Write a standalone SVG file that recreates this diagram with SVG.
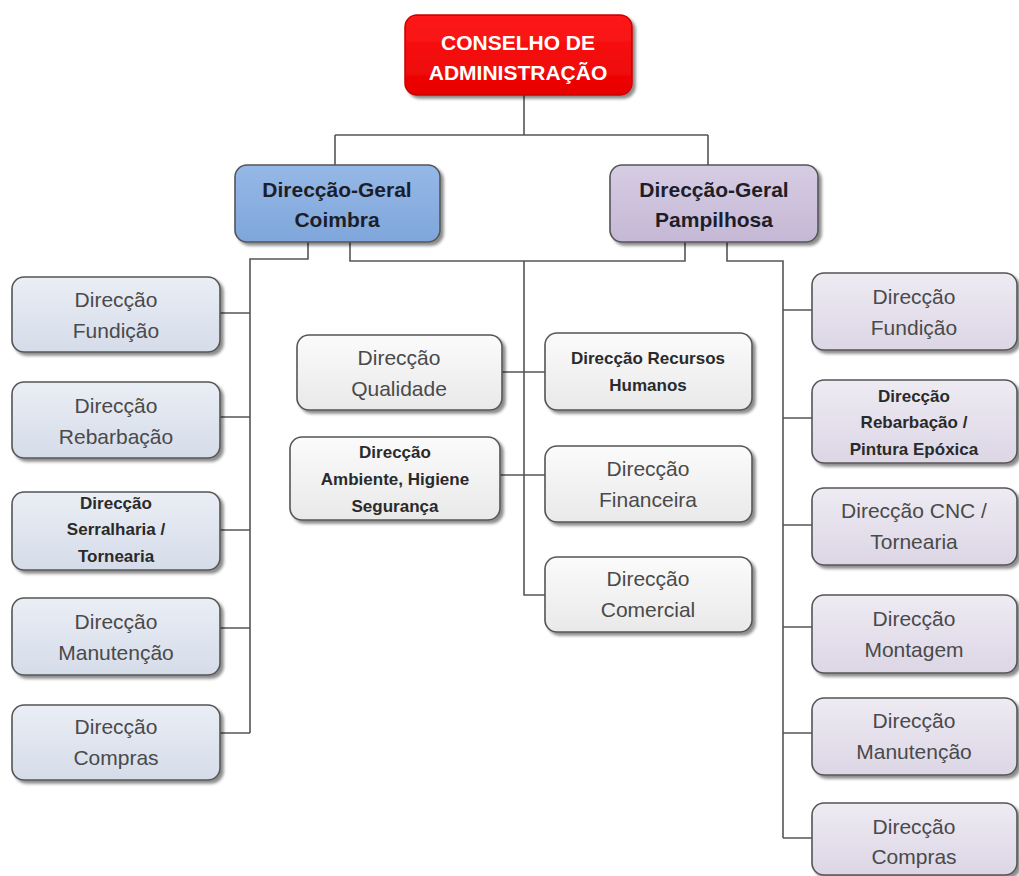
<svg xmlns="http://www.w3.org/2000/svg" width="1019" height="876" viewBox="0 0 1019 876">
<defs>
<filter id="sh" x="-10%" y="-10%" width="125%" height="130%">
<feDropShadow dx="3" dy="3" stdDeviation="1.5" flood-color="#000" flood-opacity="0.45"/>
</filter>
<linearGradient id="gRed" x1="0" y1="0" x2="0" y2="1"><stop offset="0" stop-color="#ff1a1a"/><stop offset="1" stop-color="#e80000"/></linearGradient>
<linearGradient id="gBlue" x1="0" y1="0" x2="0" y2="1"><stop offset="0" stop-color="#95b8e6"/><stop offset="1" stop-color="#7fa6db"/></linearGradient>
<linearGradient id="gLil" x1="0" y1="0" x2="0" y2="1"><stop offset="0" stop-color="#d6cce3"/><stop offset="1" stop-color="#c5b8d6"/></linearGradient>
<linearGradient id="gLB" x1="0" y1="0" x2="0" y2="1"><stop offset="0" stop-color="#eaeef5"/><stop offset="1" stop-color="#d5dce9"/></linearGradient>
<linearGradient id="gLL" x1="0" y1="0" x2="0" y2="1"><stop offset="0" stop-color="#eeebf3"/><stop offset="1" stop-color="#dcd6e5"/></linearGradient>
<linearGradient id="gW" x1="0" y1="0" x2="0" y2="1"><stop offset="0" stop-color="#fbfbfb"/><stop offset="1" stop-color="#e9e9e9"/></linearGradient>
</defs>
<style>
.box{stroke:#555;stroke-width:1.6;filter:url(#sh)}
.lb{fill:url(#gLB)} .ll{fill:url(#gLL)} .w{fill:url(#gW)}
.t{font-family:"Liberation Sans",Arial,sans-serif;font-size:21px;fill:#4a4a4a;text-anchor:middle}
.tb{font-family:"Liberation Sans",Arial,sans-serif;font-size:17px;font-weight:bold;fill:#2a2a2a;text-anchor:middle}
.th{font-family:"Liberation Sans",Arial,sans-serif;font-size:21px;font-weight:bold;fill:#1e1e2a;text-anchor:middle}
.tr{font-family:"Liberation Sans",Arial,sans-serif;font-size:21px;font-weight:bold;fill:#fff;text-anchor:middle}
.c{fill:none;stroke:#555;stroke-width:1.6}
</style>
<g id="connectors">
<path class="c" d="M524 95 V135 M335 135 H708 M335 135 V165 M708 135 V165"/>
<path class="c" d="M308 242 V259 H250 V733"/>
<path class="c" d="M220 313 H250 M220 417 H250 M220 530 H250 M220 628 H250 M220 733 H250"/>
<path class="c" d="M350 242 V261 H685 V242"/>
<path class="c" d="M524 261 V595 H545"/>
<path class="c" d="M502 372 H545 M500 475 H545"/>
<path class="c" d="M727 242 V261 H783 V838"/>
<path class="c" d="M783 310 H812 M783 418 H812 M783 525 H812 M783 627 H812 M783 733 H812 M783 838 H812"/>
</g>
<g id="conselho">
<rect x="405" y="15" width="227" height="80" rx="12" fill="url(#gRed)" stroke="#c00" stroke-width="1.5" filter="url(#sh)"/>
<text class="tr" x="518" y="50">CONSELHO DE</text>
<text class="tr" x="518" y="80">ADMINISTRAÇÃO</text>
</g>
<g id="dg-coimbra">
<rect class="box" x="235" y="165" width="205" height="77" rx="12" fill="url(#gBlue)"/>
<text class="th" x="337" y="197">Direcção-Geral</text>
<text class="th" x="337" y="227">Coimbra</text>
</g>
<g id="dg-pampilhosa">
<rect class="box" x="610" y="165" width="208" height="77" rx="12" fill="url(#gLil)"/>
<text class="th" x="714" y="197">Direcção-Geral</text>
<text class="th" x="714" y="227">Pampilhosa</text>
</g>
<g id="c-fundicao">
<rect class="box lb" x="12" y="277" width="208" height="75" rx="12"/>
<text class="t" x="116" y="307">Direcção</text><text class="t" x="116" y="338">Fundição</text>
</g>
<g id="c-rebarbacao">
<rect class="box lb" x="12" y="382" width="208" height="76" rx="12"/>
<text class="t" x="116" y="413">Direcção</text><text class="t" x="116" y="444">Rebarbação</text>
</g>
<g id="c-serralharia">
<rect class="box lb" x="12" y="492" width="208" height="78" rx="12"/>
<text class="tb" x="116" y="509">Direcção</text><text class="tb" x="116" y="535">Serralharia /</text><text class="tb" x="116" y="562">Tornearia</text>
</g>
<g id="c-manutencao">
<rect class="box lb" x="12" y="598" width="208" height="77" rx="12"/>
<text class="t" x="116" y="629">Direcção</text><text class="t" x="116" y="660">Manutenção</text>
</g>
<g id="c-compras">
<rect class="box lb" x="12" y="705" width="208" height="75" rx="12"/>
<text class="t" x="116" y="734">Direcção</text><text class="t" x="116" y="765">Compras</text>
</g>
<g id="qualidade">
<rect class="box w" x="297" y="335" width="205" height="75" rx="12"/>
<text class="t" x="399" y="365">Direcção</text><text class="t" x="399" y="396">Qualidade</text>
</g>
<g id="ambiente">
<rect class="box w" x="290" y="437" width="210" height="83" rx="12"/>
<text class="tb" x="395" y="458">Direcção</text><text class="tb" x="395" y="485">Ambiente, Higiene</text><text class="tb" x="395" y="512">Segurança</text>
</g>
<g id="recursos-humanos">
<rect class="box w" x="545" y="333" width="207" height="77" rx="12"/>
<text class="tb" x="648" y="364">Direcção Recursos</text><text class="tb" x="648" y="391">Humanos</text>
</g>
<g id="financeira">
<rect class="box w" x="545" y="446" width="207" height="76" rx="12"/>
<text class="t" x="648" y="476">Direcção</text><text class="t" x="648" y="507">Financeira</text>
</g>
<g id="comercial">
<rect class="box w" x="545" y="557" width="207" height="75" rx="12"/>
<text class="t" x="648" y="586">Direcção</text><text class="t" x="648" y="617">Comercial</text>
</g>
<g id="p-fundicao">
<rect class="box ll" x="812" y="273" width="205" height="77" rx="12"/>
<text class="t" x="914" y="304">Direcção</text><text class="t" x="914" y="335">Fundição</text>
</g>
<g id="p-rebarbacao">
<rect class="box ll" x="812" y="380" width="205" height="83" rx="12"/>
<text class="tb" x="914" y="402">Direcção</text><text class="tb" x="914" y="428">Rebarbação /</text><text class="tb" x="914" y="455">Pintura Epóxica</text>
</g>
<g id="p-cnc">
<rect class="box ll" x="812" y="488" width="205" height="77" rx="12"/>
<text class="t" x="914" y="518">Direcção CNC /</text><text class="t" x="914" y="549">Tornearia</text>
</g>
<g id="p-montagem">
<rect class="box ll" x="812" y="595" width="205" height="78" rx="12"/>
<text class="t" x="914" y="626">Direcção</text><text class="t" x="914" y="657">Montagem</text>
</g>
<g id="p-manutencao">
<rect class="box ll" x="812" y="698" width="205" height="77" rx="12"/>
<text class="t" x="914" y="728">Direcção</text><text class="t" x="914" y="759">Manutenção</text>
</g>
<g id="p-compras">
<rect class="box ll" x="812" y="803" width="205" height="72" rx="12"/>
<text class="t" x="914" y="834">Direcção</text><text class="t" x="914" y="864">Compras</text>
</g>
</svg>
